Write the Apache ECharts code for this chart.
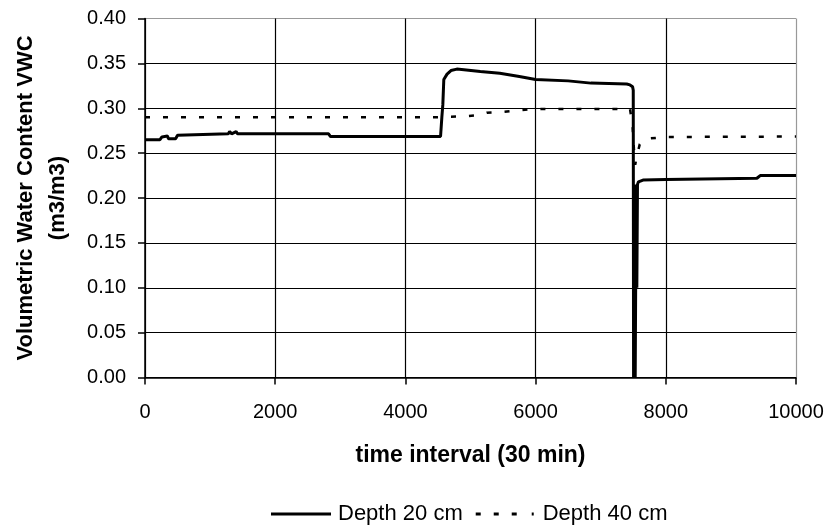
<!DOCTYPE html>
<html>
<head>
<meta charset="utf-8">
<script src="https://cdn.jsdelivr.net/npm/echarts@6/dist/echarts.min.js"></script>
<style>html,body{margin:0;padding:0;background:#fff}#c{width:829px;height:529px}</style>
</head>
<body>
<div id="c"></div>
<script>
var xTicks = [0, 2000, 4000, 6000, 8000, 10000];
var yTicks = [0.00, 0.05, 0.10, 0.15, 0.20, 0.25, 0.30, 0.35, 0.40];

var depth20X = [0, 230, 260, 290, 345, 360, 470, 500, 515, 1280, 1300, 1330, 1400, 1420, 2820, 2850, 4540, 4560, 4575, 4590, 4640, 4700, 4790, 4900, 5150, 5450, 5750, 6000, 6500, 6850, 7400, 7450, 7490, 7500, 7505, 7520, 7530, 7545, 7555, 7565, 7580, 7650, 8000, 9400, 9450, 10000];
var depth20Y = [0.2650, 0.2650, 0.2680, 0.2690, 0.2690, 0.2660, 0.2660, 0.2700, 0.2715, 0.2715, 0.2740, 0.2715, 0.2740, 0.2715, 0.2715, 0.2685, 0.2685, 0.2900, 0.3040, 0.3320, 0.3380, 0.3420, 0.3436, 0.3430, 0.3410, 0.3390, 0.3354, 0.3320, 0.3305, 0.3280, 0.3270, 0.3260, 0.3240, 0.3200, 0.0000, 0.2150, 0.0000, 0.2100, 0.1000, 0.2150, 0.2180, 0.2200, 0.2205, 0.2220, 0.2250, 0.2250];

var depth40X = [0, 4500, 4900, 5150, 5250, 5500, 6000, 7450, 7490, 7510, 7530, 7550, 7600, 7700, 8000, 10000];
var depth40Y = [0.290, 0.290, 0.291, 0.2926, 0.295, 0.296, 0.2993, 0.2993, 0.280, 0.255, 0.237, 0.245, 0.260, 0.266, 0.268, 0.2685];

var seriesNames = ['Depth 20 cm', 'Depth 40 cm'];
var xTitle = 'time interval (30 min)';
var yTitle = 'Volumetric Water Content VWC\n(m3/m3)';

function pairs(xs, ys) { return xs.map(function (x, i) { return [x, ys[i]]; }); }

var sans = "'Liberation Sans', Arial, sans-serif";

var chart = echarts.init(document.getElementById('c'), null, {renderer: 'canvas'});
chart.setOption({
  animation: false,
  backgroundColor: '#fff',
  grid: {left: 145, top: 18.5, right: 33, bottom: 151.5, show: false, containLabel: false, outerBoundsMode: 'none'},
  xAxis: {
    type: 'value', min: xTicks[0], max: xTicks[xTicks.length - 1], interval: 2000,
    name: xTitle, nameLocation: 'middle', nameGap: 67,
    nameTextStyle: {fontFamily: sans, fontWeight: 'bold', fontSize: 23, color: '#000'},
    axisLine: {show: true, lineStyle: {color: '#000', width: 1.5}},
    axisTick: {show: true, length: 7, lineStyle: {color: '#000', width: 1.5}},
    axisLabel: {fontFamily: sans, fontSize: 20, color: '#000', margin: 25, formatter: function (v) { return String(v); }},
    splitLine: {show: true, lineStyle: {color: ['#000', '#000', '#000', '#000', '#000', '#999'], width: 1.2}}
  },
  yAxis: {
    type: 'value', min: yTicks[0], max: yTicks[yTicks.length - 1], interval: 0.05,
    name: yTitle, nameLocation: 'middle', nameGap: 71,
    nameTextStyle: {fontFamily: sans, fontWeight: 'bold', fontSize: 22, color: '#000', lineHeight: 32},
    axisLine: {show: true, lineStyle: {color: '#000', width: 1.5}},
    axisTick: {show: true, length: 7, lineStyle: {color: '#000', width: 1.5}},
    axisLabel: {fontFamily: sans, fontSize: 20, color: '#000', margin: 19, formatter: function (v) { return v.toFixed(2); }},
    splitLine: {show: true, lineStyle: {color: ['#000', '#000', '#000', '#000', '#000', '#000', '#000', '#000', '#999'], width: 1.2}}
  },
  legend: {
    top: 498, left: 266, itemWidth: 60, itemHeight: 3, itemGap: 13,
    textStyle: {fontFamily: sans, fontSize: 22, color: '#000', padding: [0, 0, 0, 2]},
    data: [
      {name: seriesNames[0], icon: 'path://M0,0H60V3H0Z'},
      {name: seriesNames[1], icon: 'path://M0,0H5V3H0Z M18,0H23V3H18Z M36,0H41V3H36Z M56,0H58V3H56Z M0,0H0.01V0.01H0Z M60,3H59.99V2.99H60Z'}
    ]
  },
  series: [
    {
      name: seriesNames[0], type: 'line', showSymbol: false, symbol: 'none',
      data: pairs(depth20X, depth20Y),
      lineStyle: {color: '#000', width: 3}, itemStyle: {color: '#000'}, z: 3
    },
    {
      name: seriesNames[1], type: 'line', showSymbol: false, symbol: 'none',
      data: pairs(depth40X, depth40Y),
      lineStyle: {color: '#000', width: 2.5, type: [5, 13]}, itemStyle: {color: '#000'}, z: 2
    }
  ]
});
</script>
</body>
</html>
